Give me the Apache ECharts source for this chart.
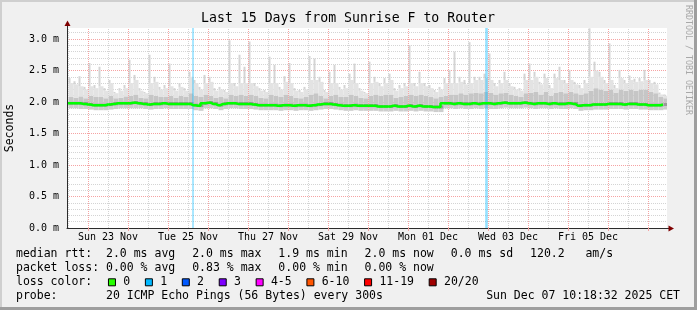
<!DOCTYPE html>
<html>
<head>
<meta charset="utf-8">
<script src="https://cdn.jsdelivr.net/npm/echarts@6.0.0/dist/echarts.min.js"></script>
<style>
html,body{margin:0;padding:0;background:#f0f0f0;}
#chart{width:697px;height:310px;}
</style>
</head>
<body>
<div id="chart"></div>
<script>
// ---------------- data ----------------
const chartTitle = 'Last 15 Days from Sunrise F to Router';
const yAxisTitle = 'Seconds';
const watermark = 'RRDTOOL / TOBI OETIKER';

// x axis: hours relative to Sun 23 Nov 00:00
const axisStartHour = -12.6;
const axisEndHour = 347.4;
const xLabelHours = [12, 60, 108, 156, 204, 252, 300];
const xLabelTexts = ['Sun 23 Nov', 'Tue 25 Nov', 'Thu 27 Nov', 'Sat 29 Nov', 'Mon 01 Dec', 'Wed 03 Dec', 'Fri 05 Dec'];
const midnightHours = [0, 24, 48, 72, 96, 120, 144, 168, 192, 216, 240, 264, 288, 312, 336];
const noonHours = [-12, 12, 36, 60, 84, 108, 132, 156, 180, 204, 228, 252, 276, 300, 324];

// y axis (milliseconds)
const yMin = 0, yMax = 3.175, yStep = 0.5;

// smoke columns: one every 3 hours starting at -12 h
const colStartHour = -12;
const colStepHours = 3;

const medianMs = [
  1.98,1.98,1.98,1.97,1.96,1.95,1.95,1.95,1.96,1.97,1.98,1.98,1.98,1.99,1.98,1.97,1.96,1.97,1.97,1.98,
  1.97,1.97,1.97,1.97,1.97,1.95,1.94,1.98,1.99,1.97,1.95,1.97,1.98,1.98,1.97,1.97,1.97,1.96,1.95,1.95,
  1.95,1.95,1.94,1.95,1.95,1.94,1.95,1.95,1.94,1.95,1.96,1.97,1.97,1.96,1.95,1.94,1.94,1.95,1.94,1.94,
  1.94,1.94,1.93,1.93,1.93,1.94,1.93,1.93,1.94,1.93,1.94,1.93,1.93,1.92,1.92,1.98,1.98,1.97,1.98,1.97,
  1.97,1.98,1.97,1.98,1.98,1.97,1.98,1.99,1.98,1.98,1.98,1.99,1.98,1.97,1.98,1.98,1.97,1.98,1.97,1.97,
  1.98,1.97,1.94,1.95,1.95,1.96,1.96,1.96,1.97,1.97,1.97,1.96,1.97,1.97,1.96,1.96,1.95,1.95,1.95,1.96
];
const minMs = [
  1.90,1.90,1.89,1.89,1.88,1.87,1.87,1.87,1.88,1.89,1.90,1.90,1.90,1.90,1.90,1.89,1.88,1.89,1.89,1.90,
  1.89,1.89,1.89,1.89,1.89,1.87,1.86,1.90,1.90,1.89,1.87,1.89,1.90,1.90,1.89,1.89,1.89,1.88,1.87,1.87,
  1.87,1.87,1.86,1.87,1.87,1.86,1.87,1.87,1.86,1.87,1.88,1.89,1.89,1.88,1.87,1.86,1.86,1.87,1.86,1.86,
  1.86,1.86,1.85,1.85,1.85,1.86,1.85,1.85,1.86,1.85,1.86,1.85,1.85,1.84,1.84,1.90,1.90,1.89,1.90,1.89,
  1.89,1.90,1.89,1.90,1.89,1.89,1.90,1.91,1.90,1.90,1.90,1.91,1.90,1.89,1.90,1.90,1.89,1.90,1.89,1.89,
  1.90,1.89,1.86,1.87,1.87,1.88,1.88,1.88,1.89,1.89,1.89,1.88,1.89,1.89,1.88,1.88,1.87,1.87,1.87,1.88
];
const midMs = [
  2.08,2.07,2.09,2.06,2.10,2.08,2.08,2.06,2.10,2.06,2.07,2.09,2.10,2.12,2.07,2.06,2.12,2.10,2.08,2.08,
  2.10,2.07,2.10,2.08,2.14,2.10,2.08,2.12,2.10,2.07,2.08,2.06,2.12,2.10,2.12,2.10,2.12,2.10,2.07,2.06,
  2.12,2.10,2.08,2.12,2.10,2.07,2.06,2.08,2.12,2.14,2.10,2.06,2.10,2.12,2.08,2.08,2.12,2.10,2.07,2.06,
  2.10,2.12,2.10,2.12,2.12,2.07,2.08,2.10,2.12,2.10,2.12,2.10,2.08,2.06,2.08,2.10,2.12,2.12,2.14,2.12,
  2.14,2.15,2.14,2.16,2.15,2.12,2.14,2.15,2.12,2.10,2.08,2.14,2.15,2.16,2.12,2.16,2.10,2.15,2.16,2.14,
  2.16,2.14,2.12,2.14,2.18,2.22,2.20,2.18,2.20,2.15,2.20,2.18,2.20,2.18,2.20,2.20,2.16,2.14,2.08,2.06
];
const bodyMs = [
  2.30,2.28,2.25,2.20,2.25,2.22,2.25,2.18,2.30,2.14,2.18,2.22,2.30,2.35,2.18,2.14,2.30,2.32,2.20,2.22,
  2.25,2.18,2.24,2.18,2.40,2.30,2.20,2.30,2.32,2.18,2.20,2.16,2.30,2.25,2.30,2.30,2.30,2.25,2.18,2.16,
  2.30,2.30,2.20,2.32,2.30,2.18,2.16,2.20,2.35,2.35,2.32,2.16,2.30,2.30,2.20,2.22,2.35,2.30,2.18,2.14,
  2.30,2.32,2.25,2.30,2.35,2.18,2.22,2.25,2.30,2.25,2.30,2.25,2.22,2.16,2.20,2.30,2.30,2.30,2.32,2.28,
  2.30,2.35,2.35,2.38,2.35,2.25,2.30,2.35,2.25,2.20,2.18,2.35,2.35,2.40,2.28,2.38,2.22,2.38,2.35,2.30,
  2.35,2.28,2.22,2.30,2.40,2.50,2.40,2.30,2.35,2.22,2.38,2.30,2.35,2.32,2.33,2.35,2.30,2.28,2.12,2.10
];
const maxMs = [
  2.38,2.33,2.41,2.24,2.62,2.27,2.56,2.22,2.35,2.16,2.22,2.27,2.67,2.43,2.22,2.16,2.75,2.40,2.24,2.27,
  2.61,2.22,2.30,2.22,2.48,2.35,2.24,2.43,2.40,2.22,2.24,2.19,2.98,2.30,2.75,2.56,2.96,2.30,2.22,2.19,
  2.72,2.59,2.24,2.41,2.62,2.22,2.19,2.24,2.73,2.69,2.40,2.19,2.48,2.59,2.24,2.27,2.45,2.61,2.22,2.16,
  2.64,2.40,2.30,2.38,2.45,2.22,2.27,2.30,2.90,2.30,2.48,2.30,2.27,2.19,2.24,2.38,2.51,2.80,2.40,2.35,
  2.95,2.40,2.40,2.45,2.77,2.30,2.35,2.48,2.30,2.24,2.22,2.45,2.61,2.48,2.32,2.45,2.27,2.45,2.56,2.35,
  2.51,2.32,2.27,2.35,3.17,2.64,2.48,2.35,2.93,2.27,2.51,2.35,2.42,2.37,2.38,2.51,2.35,2.32,2.15,2.12
];

// packet loss events (hours)
const lossHours = [63, 239.2];

// legend texts
const statRows = [
  ['median rtt:  2.0 ms avg', '2.0 ms max', '1.9 ms min', '2.0 ms now', '0.0 ms sd', '120.2   am/s'],
  ['packet loss: 0.00 % avg', '0.83 % max', '0.00 % min', '0.00 % now']
];
const lossColorTitle = 'loss color:';
const lossColorLabels = ['0', '1', '2', '3', '4-5', '6-10', '11-19', '20/20'];
const lossColorSwatches = ['#26ff00', '#00b8ff', '#0059ff', '#7e00ff', '#ff00ff', '#ff5500', '#ff0000', '#a00000'];
const probeTitle = 'probe:';
const probeText = '20 ICMP Echo Pings (56 Bytes) every 300s';
const timestampText = 'Sun Dec 07 10:18:32 2025 CET';

// ---------------- chart ----------------
const MONO = '"DejaVu Sans Mono", monospace';
const colHours = medianMs.map((_, i) => colStartHour + colStepHours * i);
const pts = arr => arr.map((v, i) => [colHours[i], v]);
const seg = (top, bottom) => top.map((v, i) => Math.max(0, +(v - bottom[i]).toFixed(4)));
const darkLow = medianMs.map(v => v - 0.025);
const darkHigh = medianMs.map(v => v + 0.03);

const GRID_L = 67, GRID_T = 28, GRID_W = 600, GRID_H = 200;

function barSeries(name, stack, data, color, width) {
  return {
    type: 'bar', name, stack, data, xAxisIndex: 1, yAxisIndex: 0,
    barWidth: width, barGap: '-100%', clip: true,
    itemStyle: { color }, silent: true, z: 3, emphasis: { disabled: true }
  };
}

const RED_GRID = '#f5a3a3';
const GRAY_GRID = '#d4d4d4';
const vLines = [];
midnightHours.forEach(h => vLines.push({ xAxis: h, lineStyle: { color: RED_GRID, type: [1, 1], width: 1 } }));
noonHours.forEach(h => vLines.push({ xAxis: h, lineStyle: { color: GRAY_GRID, type: [1, 1], width: 1 } }));

const series = [
  {
    type: 'line', name: 'vgrid', data: [[colHours[0], -1]], symbol: 'none', silent: true, z: 1,
    lineStyle: { opacity: 0 },
    markLine: { silent: true, symbol: 'none', label: { show: false }, animation: false, data: vLines }
  },
  barSeries('base1', 's1', minMs.slice(), 'rgba(0,0,0,0)', 5),
  barSeries('low', 's1', seg(darkLow, minMs), '#cdcdcd', 5),
  barSeries('dark', 's1', seg(darkHigh, darkLow), '#9a9a9a', 5),
  barSeries('mid', 's1', seg(midMs, darkHigh), '#c6c6c6', 5),
  barSeries('body', 's1', seg(bodyMs, midMs), '#e3e3e3', 5),
  barSeries('base2', 's2', bodyMs.slice(), 'rgba(0,0,0,0)', 2),
  barSeries('spike', 's2', seg(maxMs, bodyMs), '#d4d4d4', 2),
  {
    type: 'line', name: 'median', data: pts(medianMs), step: 'middle', symbol: 'none', silent: true, z: 6,
    lineStyle: { color: '#00ff00', width: 2.5 }
  },
  {
    type: 'line', name: 'loss', data: [[colHours[0], -1]], symbol: 'none', silent: true, z: 5,
    lineStyle: { opacity: 0 },
    markLine: {
      silent: true, symbol: 'none', label: { show: false }, animation: false,
      data: lossHours.map((h, i) => ({ xAxis: h, lineStyle: { color: 'rgba(0,184,255,0.42)', type: 'solid', width: i === 0 ? 1.6 : 2.6 } }))
    }
  }
];

// graphic decorations & legend
const cw = 6.92;
const g = [];
function txt(x, y, s, extra) {
  g.push(Object.assign({
    type: 'text', x, y, silent: true,
    style: Object.assign({ text: s, font: '11.5px ' + MONO, fill: '#000', textAlign: 'left', textVerticalAlign: 'middle' }, (extra && extra.style) || {})
  }, extra && extra.rotation !== undefined ? { rotation: extra.rotation } : {}));
}
g.push({ type: 'rect', shape: { x: 0, y: 0, width: 697, height: 2 }, style: { fill: '#cfcfcf' }, silent: true });
g.push({ type: 'rect', shape: { x: 0, y: 0, width: 2, height: 310 }, style: { fill: '#cfcfcf' }, silent: true });
g.push({ type: 'rect', shape: { x: 0, y: 307, width: 697, height: 3 }, style: { fill: '#9e9e9e' }, silent: true });
g.push({ type: 'rect', shape: { x: 694, y: 0, width: 3, height: 310 }, style: { fill: '#9e9e9e' }, silent: true });
txt(348, 19, chartTitle, { style: { font: '13.2px ' + MONO, textAlign: 'center' } });
txt(10, 128, yAxisTitle, { rotation: Math.PI / 2, style: { textAlign: 'center' } });
txt(688, 60, watermark, { rotation: -Math.PI / 2, style: { font: '8.3px ' + MONO, fill: '#a8a8a8', textAlign: 'center' } });
g.push({ type: 'line', shape: { x1: 67.5, y1: 28, x2: 67.5, y2: 24 }, style: { stroke: '#2c2c2c', lineWidth: 1 }, silent: true });
g.push({ type: 'line', shape: { x1: 667, y1: 228.5, x2: 670, y2: 228.5 }, style: { stroke: '#2c2c2c', lineWidth: 1 }, silent: true });
g.push({ type: 'polygon', shape: { points: [[67.5, 20.5], [64.5, 26], [70.5, 26]] }, style: { fill: '#7f0000' }, silent: true });
g.push({ type: 'polygon', shape: { points: [[674, 228.5], [668.5, 225.5], [668.5, 231.5]] }, style: { fill: '#7f0000' }, silent: true });

const rowY = [254.3, 268.3, 282.3, 296];
const legendX = 16, itemGap = 17;
statRows.forEach((items, r) => {
  let x = legendX;
  items.forEach(s => { txt(x, rowY[r], s); x += s.length * cw + itemGap; });
});
txt(legendX, rowY[2], lossColorTitle);
let bx = legendX + 13 * cw + 2;
lossColorLabels.forEach((lab, i) => {
  g.push({ type: 'rect', shape: { x: bx + 0.5, y: rowY[2] - 3.5, width: 7, height: 7 }, style: { fill: lossColorSwatches[i], stroke: '#000', lineWidth: 1 }, silent: true });
  txt(bx + 15.3, rowY[2], lab);
  bx += 30 + lab.length * cw;
});
txt(legendX, rowY[3], probeTitle);
txt(legendX + 13 * cw, rowY[3], probeText);
txt(680, rowY[3], timestampText, { style: { textAlign: 'right' } });

const option = {
  backgroundColor: '#f0f0f0',
  animation: false,
  grid: {
    left: GRID_L, top: GRID_T, width: GRID_W, height: GRID_H,
    show: true, backgroundColor: '#ffffff', borderWidth: 0, containLabel: false, outerBoundsMode: 'none'
  },
  xAxis: [{
    type: 'value', min: axisStartHour, max: axisEndHour,
    axisLine: { show: true, onZero: false, lineStyle: { color: '#2c2c2c', width: 1 } },
    axisTick: { show: true, customValues: midnightHours, length: 3, inside: false, lineStyle: { color: RED_GRID } },
    axisLabel: {
      show: true, customValues: xLabelHours, margin: 4,
      formatter: v => { const k = xLabelHours.indexOf(Math.round(v)); return k >= 0 ? xLabelTexts[k] : ''; },
      fontFamily: MONO, fontSize: 10, color: '#000'
    },
    splitLine: { show: false }, minorSplitLine: { show: false }
  }, {
    type: 'category', data: colHours.map(String), boundaryGap: true, show: false,
    axisLine: { show: false, onZero: false }, axisTick: { show: false }, axisLabel: { show: false }, splitLine: { show: false }
  }],
  yAxis: {
    type: 'value', min: yMin, max: yMax, interval: yStep,
    axisLine: { show: true, onZero: false, lineStyle: { color: '#2c2c2c', width: 1 } },
    axisTick: { show: false },
    axisLabel: {
      show: true, showMaxLabel: false, margin: 8,
      formatter: v => v.toFixed(1) + ' m',
      fontFamily: MONO, fontSize: 10, color: '#000'
    },
    splitLine: { show: true, showMaxLine: false, showMinLine: false, lineStyle: { color: RED_GRID, type: [1, 1], width: 1 } },
    minorTick: { show: false, splitNumber: 5 },
    minorSplitLine: { show: true, lineStyle: { color: GRAY_GRID, type: [1, 1], width: 1 } }
  },
  series,
  graphic: { elements: g }
};

const chart = echarts.init(document.getElementById('chart'), null, { renderer: 'canvas' });
chart.setOption(option);
</script>
</body>
</html>
